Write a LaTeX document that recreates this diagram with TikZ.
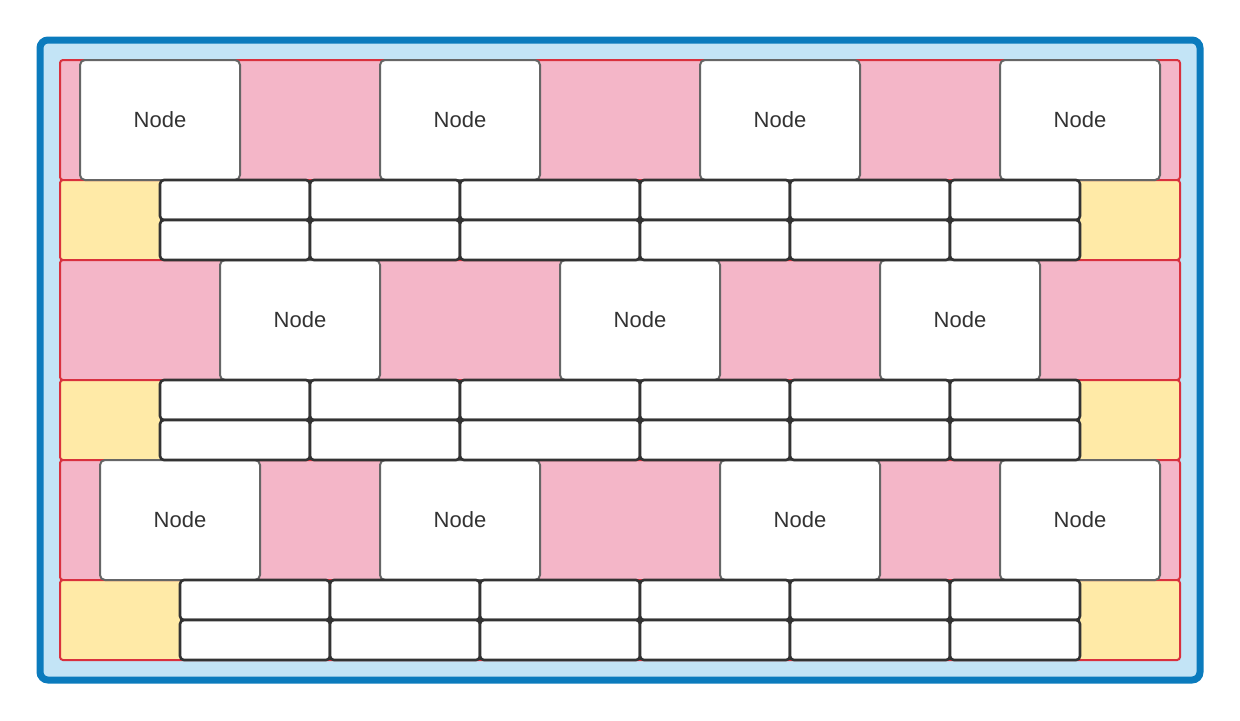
\documentclass[tikz,border=0pt]{standalone}
\usepackage{fontspec}
\setmainfont{Liberation Sans}

\definecolor{frameblue}{HTML}{0B7BBD}
\definecolor{framefill}{HTML}{C3E4F6}
\definecolor{bandred}{HTML}{D9313E}
\definecolor{bandpink}{HTML}{F4B6C8}
\definecolor{bandyellow}{HTML}{FFEAA7}
\definecolor{nodegray}{HTML}{666666}
\definecolor{celldark}{HTML}{333333}

\tikzset{
    band/.style={draw=bandred, line width=1pt, rounded corners=1.5pt,
        inner sep=0pt, minimum width=560pt},
    pinkband/.style={band, fill=bandpink, minimum height=60pt},
    yellowband/.style={band, fill=bandyellow, minimum height=40pt},
    bignode/.style={draw=nodegray, line width=1pt, fill=white,
        rounded corners=2.5pt, inner sep=0pt, minimum width=80pt,
        minimum height=60pt, text=celldark, font=\fontsize{11pt}{13pt}\selectfont},
    cell/.style={draw=celldark, line width=1.3pt, fill=white,
        rounded corners=2pt, inner sep=0pt, minimum height=20pt}
}

\begin{document}
\begin{tikzpicture}[x=0.5pt,y=-0.5pt]
    \useasboundingbox (0,0) rectangle (1240,720);
    % outer frame
    \node[draw=frameblue, line width=3.5pt, fill=framefill, rounded corners=4pt,
        inner sep=0pt, minimum width=580pt, minimum height=320pt] (frame) at (620,360) {};
    % bands
    \node[pinkband] (band1) at (620,120) {};
    \node[yellowband] (band2) at (620,220) {};
    \node[pinkband] (band3) at (620,320) {};
    \node[yellowband] (band4) at (620,420) {};
    \node[pinkband] (band5) at (620,520) {};
    \node[yellowband] (band6) at (620,620) {};
    % big nodes
    \foreach \x [count=\i] in {160,460,780,1080}
        \node[bignode] (a\i) at (\x,120) {Node};
    \foreach \x [count=\i] in {300,640,960}
        \node[bignode] (b\i) at (\x,320) {Node};
    \foreach \x [count=\i] in {180,460,800,1080}
        \node[bignode] (c\i) at (\x,520) {Node};
    % cells
    \foreach \y/\r in {200/p,240/q,400/s,440/t} {
        \foreach \l/\rr [count=\i] in {160/310,310/460,460/640,640/790,790/950,950/1080}
            \node[cell, minimum width={(\rr-\l)*0.5pt}] (\r\i) at ({(\l+\rr)/2},\y) {};
    }
    \foreach \y/\r in {600/u,640/v} {
        \foreach \l/\rr [count=\i] in {180/330,330/480,480/640,640/790,790/950,950/1080}
            \node[cell, minimum width={(\rr-\l)*0.5pt}] (\r\i) at ({(\l+\rr)/2},\y) {};
    }
\end{tikzpicture}
\end{document}
